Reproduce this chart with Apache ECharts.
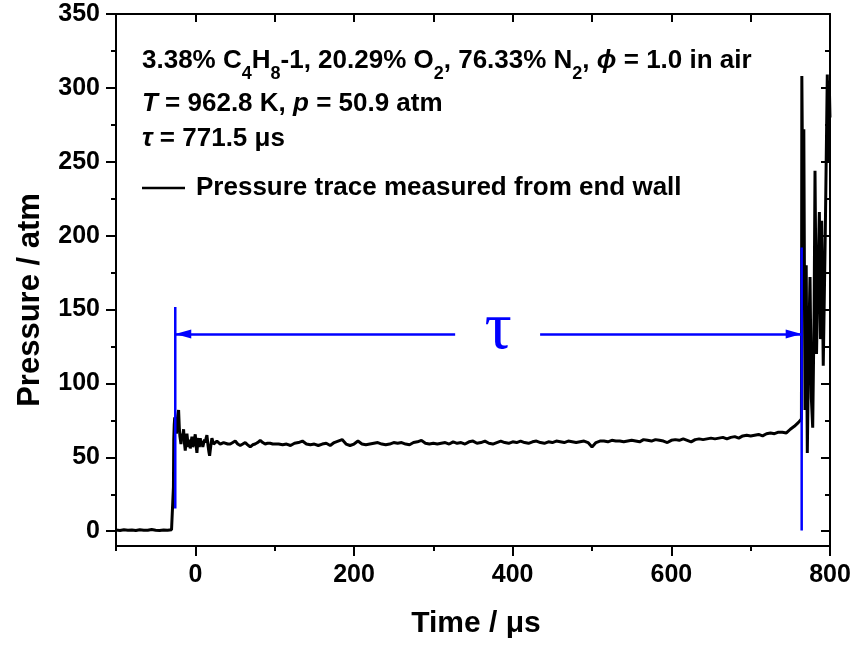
<!DOCTYPE html>
<html>
<head>
<meta charset="utf-8">
<script src="https://cdn.jsdelivr.net/npm/echarts@6.0.0/dist/echarts.min.js"></script>
<style>
html,body{margin:0;padding:0;background:#fff;}
#chart{width:855px;height:648px;}
</style>
</head>
<body>
<div id="chart"></div>
<script>
// ---------------- DATA ----------------
const seriesName = 'Pressure trace measured from end wall';

// before the reflected shock
const preTimes = [-100,-95,-90,-85,-80,-75,-70,-65,-60,-55,-50,-45,-40,-35,-30,-28];
const preP     = [0.8,0.5,1.0,0.7,0.9,0.5,1.0,0.7,0.6,1.1,0.7,0.5,0.9,0.6,1.0,0.8];

// shock arrival and ringing
const shockTimes = [-27.6,-27.2,-26.6,-26,-25.4,-24.6,-23.8,-23,-22.2,-21.1,-20.2,-19.4,-18.1,-17.2,-16.2,-14.8,-13.8,-12.7,-11.6,-10.6,-9.4,-8.4,-7.4,-6.4,-5.4,-4.3,-3.3,-2.2,-1.2,-0.1,1,2,3,4,5,6.2,7.2,8.3,9.4,10.4,11.5,12.5,13.6,14.6,16,17,18,19.5,20.9,23,25.1,27.2,29.3,31.4,33.5,35.6,37.7,40.8,44,47.2,50.3,53.4,56.6,59.8,62.9,66,69.2,72.3,75.4,78.6,81.8,85,88,91,94.4,97.5,100];
const shockP     = [30,62,72,77,70,74,66,72,78,82,70,64,59,66,62,69,60,54.5,62,66,60,57,62,56,60,64,57,59,62,65.6,58,53,60,63,57,63,59,61,57,58,62,60,63,65,58,54,51,58,63,59,58,61,62,59,58,60,61,59,59,60,61,59,58,59,60,58.5,57,58.5,59,60,61.5,60,59,59.5,59.5,59,58.5];

// quasi-steady plateau
const plateauTimes = [105,110,115,120,125,130,135,140,145,150,155,160,165,170,175,180,185,190,195,200,
  205,210,215,220,225,230,235,240,245,250,255,260,265,270,275,280,285,290,295,300,
  305,310,315,320,325,330,335,340,345,350,355,360,365,370,375,380,385,390,395,400,
  405,410,415,420,425,430,435,440,445,450,455,460,465,470,475,480,485,490,495,500,
  505,510,515,520,525,530,535,540,545,550,555,560,565,570,575,580,585,590,595,600,
  605,610,615,620,625,630,635,640,645,650,655,660,665,670,675,680,685,690,695,700,
  705,710,715,720,725,730,735,740,745];
const plateauP = [59,58.5,59,58,59.5,60,61,59,58.5,59,58,59,59.5,58,60,61,62,59,58,59,
  61,59,58.5,59,59.5,60,59,58.5,59,60,59.5,60,59,58.5,60,60.5,61.5,59.5,59,59.5,
  59,59.5,60,59,60.5,59.5,60,59,60.5,61,59.5,60,61,59.5,59,60,61,60,59.5,60.5,
  60,61,60,59.5,60.5,61,60,59.5,60.5,60,61,60.5,60,61,60.5,60,60.5,61,60,57,
  60,61,61,60.5,61.5,61,61,60.5,61,61.5,61,60.5,62,61.5,61,62,61.5,61,60,61.5,
  62,61.5,62.5,61.5,60.5,62,62.5,62,62.5,63,62.5,63,63.5,62.5,63.5,64,63,64.5,65,64.5,
  65,65.5,64.5,66,66.5,66,67,67,66.5];

// ignition
const ignitionTimes = [750,755,760,762,764,764.5,766,767,768.5,770,771.4,773,774.8,776.5,778.2,780,781.1,783,784.5,786.6,788,789.5,791.5,794,796.6,798,799,800];
const ignitionP     = [69,71,73.5,74.5,76,308,200,272,82,180,53,120,172,90,70,150,244,120,165,216,130,210,112,200,309,250,305,280];

// axis ticks
const xMajorTicks = [0,200,400,600,800];
const xMinorTicks = [-100,100,300,500,700];
const xAllTicks   = [-100,0,100,200,300,400,500,600,700,800];
const yMajorTicks = [0,50,100,150,200,250,300,350];
const yMinorTicks = [25,75,125,175,225,275,325];

// ignition-delay markers (blue)
const markerStart = [-25.3, 15.3, 151.8];   // x, yLow, yHigh
const markerEnd   = [764.3, 0.5, 192];
const arrowY      = 133.4;
const arrowLeftEnd    = 327.5;
const arrowRightStart = 434.6;
const tauLabelPos = [381.7, 136];

// ---------------- CHART ----------------
const FONT = '"Liberation Sans", Arial, Helvetica, sans-serif';
const BLUE = '#0000ff';

const times = preTimes.concat(shockTimes, plateauTimes, ignitionTimes);
const press = preP.concat(shockP, plateauP, ignitionP);
const traceData = times.map((t, i) => [t, press[i]]);

const chart = echarts.init(document.getElementById('chart'), null, {renderer: 'canvas'});

const axisLineStyle = {color: '#000', width: 2};
const labelStyle = {fontSize: 25, fontWeight: 'bold', fontFamily: FONT, color: '#000'};

function xAx(extra) {
  return Object.assign({
    type: 'value', min: -100, max: 800, splitLine: {show: false},
    axisLine: {show: false, onZero: false, lineStyle: axisLineStyle},
    axisLabel: {show: false}
  }, extra);
}
function yAx(extra) {
  return Object.assign({
    type: 'value', min: -10, max: 350, splitLine: {show: false},
    axisLine: {show: false, onZero: false, lineStyle: axisLineStyle},
    axisLabel: {show: false}
  }, extra);
}

const option = {
  animation: false,
  backgroundColor: '#fff',
  grid: {left: 116, right: 25, top: 14, bottom: 102, containLabel: false, outerBoundsMode: 'none'},
  legend: {
    data: [seriesName], left: 142, top: 175, padding: 0,
    icon: 'rect', itemWidth: 43, itemHeight: 2.5, selectedMode: false,
    itemStyle: {color: '#000'},
    textStyle: {fontSize: 26, fontWeight: 'bold', fontFamily: FONT, color: '#000', padding: [0, 0, 0, 6]}
  },
  xAxis: [
    xAx({position: 'bottom',
      axisLine: {show: true, onZero: false, lineStyle: axisLineStyle},
      axisTick: {show: true, customValues: xMajorTicks, length: 10, lineStyle: {color: '#000', width: 2}},
      axisLabel: Object.assign({show: true, customValues: xMajorTicks, margin: 17}, labelStyle)}),
    xAx({position: 'bottom',
      axisTick: {show: true, customValues: xMinorTicks, length: 5, lineStyle: {color: '#000', width: 2}}}),
    xAx({position: 'top',
      axisLine: {show: true, onZero: false, lineStyle: axisLineStyle},
      axisTick: {show: true, inside: true, customValues: xAllTicks, length: 8, lineStyle: {color: '#000', width: 2}}})
  ],
  yAxis: [
    yAx({position: 'left',
      axisLine: {show: true, onZero: false, lineStyle: axisLineStyle},
      axisTick: {show: true, customValues: yMajorTicks, length: 10, lineStyle: {color: '#000', width: 2}},
      axisLabel: Object.assign({show: true, customValues: yMajorTicks, margin: 16}, labelStyle)}),
    yAx({position: 'left',
      axisTick: {show: true, customValues: yMinorTicks, length: 5, lineStyle: {color: '#000', width: 2}}}),
    yAx({position: 'right',
      axisLine: {show: true, onZero: false, lineStyle: axisLineStyle},
      axisTick: {show: true, inside: true, customValues: yMajorTicks, length: 9, lineStyle: {color: '#000', width: 2}}}),
    yAx({position: 'right',
      axisTick: {show: true, inside: true, customValues: yMinorTicks, length: 5, lineStyle: {color: '#000', width: 2}}})
  ],
  series: [
    {
      name: seriesName, type: 'line', data: traceData, showSymbol: false, symbol: 'none',
      lineStyle: {color: '#000', width: 3}, itemStyle: {color: '#000'}, z: 2,
      xAxisIndex: 0, yAxisIndex: 0, silent: true
    },
    {
      name: 'start marker', type: 'line', symbol: 'none', z: 3, silent: true,
      data: [[markerStart[0], markerStart[1]], [markerStart[0], markerStart[2]]],
      lineStyle: {color: BLUE, width: 2.5},
      markLine: {
        silent: true, animation: false,
        lineStyle: {color: BLUE, width: 2.5, type: 'solid'},
        label: {show: false},
        data: [
          [{coord: [markerStart[0], arrowY], symbol: 'triangle', symbolSize: [9, 16], symbolOffset: [0, 8]},
           {coord: [arrowLeftEnd, arrowY], symbol: 'none'}],
          [{coord: [arrowRightStart, arrowY], symbol: 'none'},
           {coord: [markerEnd[0], arrowY], symbol: 'triangle', symbolSize: [9, 16], symbolOffset: [0, 8]}]
        ]
      },
      markPoint: {
        silent: true, animation: false,
        symbol: 'circle', symbolSize: 0, itemStyle: {color: 'rgba(0,0,0,0)'},
        label: {show: true, position: 'inside', formatter: 'τ', fontSize: 68, fontWeight: 'normal', fontFamily: '"Liberation Serif", serif', color: BLUE},
        data: [{coord: tauLabelPos}]
      }
    },
    {
      name: 'end marker', type: 'line', symbol: 'none', z: 3, silent: true,
      data: [[markerEnd[0], markerEnd[1]], [markerEnd[0], markerEnd[2]]],
      lineStyle: {color: BLUE, width: 2.5}
    }
  ],
  graphic: [
    {type: 'text', x: 142, y: 61, silent: true, style: {
      text: '3.38% C{s|4}H{s|8}-1, 20.29% O{s|2}, 76.33% N{s|2}, {i|ϕ} = 1.0 in air',
      font: 'bold 26px ' + FONT, fill: '#000', align: 'left', verticalAlign: 'middle',
      rich: {
        s: {font: 'bold 18px ' + FONT, fill: '#000', padding: [26, 0, 0, 0]},
        i: {font: 'italic bold 26px ' + FONT, fill: '#000'}
      }}},
    {type: 'text', x: 142, y: 104, silent: true, style: {
      text: '{i|T} = 962.8 K, {i|p} = 50.9 atm',
      font: 'bold 26px ' + FONT, fill: '#000', align: 'left', verticalAlign: 'middle',
      rich: {i: {font: 'italic bold 26px ' + FONT, fill: '#000'}}}},
    {type: 'text', x: 142, y: 138.5, silent: true, style: {
      text: '{i|τ} = 771.5 μs',
      font: 'bold 26px ' + FONT, fill: '#000', align: 'left', verticalAlign: 'middle',
      rich: {i: {font: 'italic bold 26px ' + FONT, fill: '#000'}}}},
    {type: 'text', x: 30, y: 300, rotation: Math.PI / 2, silent: true, style: {
      text: 'Pressure / atm', font: 'bold 31px ' + FONT, fill: '#000', align: 'center', verticalAlign: 'middle'}},
    {type: 'text', x: 476, y: 624, silent: true, style: {
      text: 'Time / μs', font: 'bold 30px ' + FONT, fill: '#000', align: 'center', verticalAlign: 'middle'}}
  ]
};

chart.setOption(option);
</script>
</body>
</html>
